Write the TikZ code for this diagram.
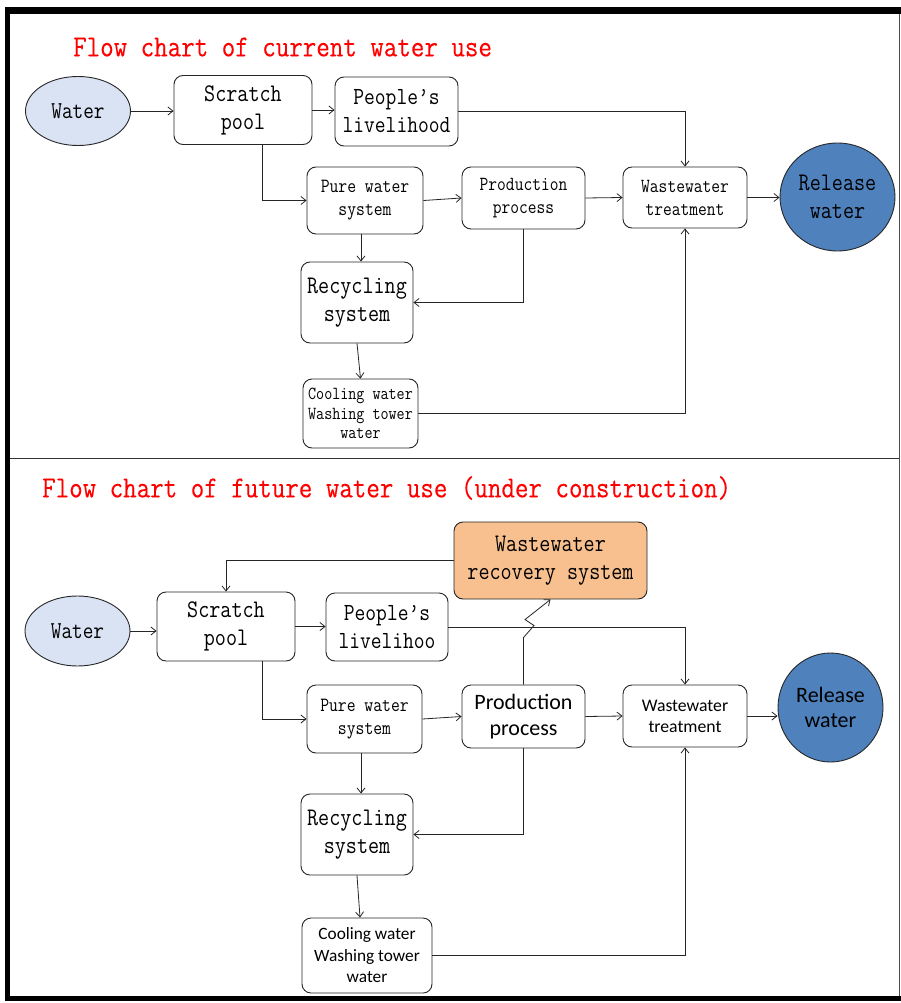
\documentclass[tikz,border=0pt]{standalone}
\usepackage{fontspec}
\usetikzlibrary{arrows.meta,shapes.geometric}
\newfontfamily\simfont[FakeStretch=0.85]{Latin Modern Mono}
\newfontfamily\titlefont[FakeStretch=0.86,FakeBold=0.2]{Latin Modern Mono}
\newfontfamily\calfont{Carlito}
\definecolor{waterblue}{HTML}{DAE3F3}
\definecolor{relblue}{HTML}{4F81BD}
\definecolor{recorange}{HTML}{F8C08F}
\newcommand{\fs}[2]{\fontsize{#1}{#2}\selectfont}
\begin{document}
\begin{tikzpicture}[x=1pt,y=-1pt,
  box/.style={draw=black!85, line width=0.9pt, rounded corners=9pt, align=center, inner sep=0pt},
  oval/.style={draw=black!85, line width=0.9pt, ellipse, align=center, inner sep=0pt},
  arr/.style={draw=black!85, line width=0.8pt, -{Straight Barb[length=5pt,width=8pt]}},
  ttl/.style={text=red, anchor=west, inner sep=0pt, font=\titlefont\fs{30.5}{33}}
]
\useasboundingbox (0,0) rectangle (901,1003);
\fill[white] (0,0) rectangle (901,1003);
% frame
\fill[black] (5,7) rectangle (901,14);
\fill[black] (5,7) rectangle (10,1001);
\fill[black] (5,996) rectangle (901,1001);
\draw[black!70, line width=1pt] (899.5,14) -- (899.5,996);
\draw[black!80, line width=1pt] (10,458) -- (899,458);

% ---------- top ----------
\node[ttl] (t1) at (73,47) {Flow chart of current water use};
\node[oval, fill=waterblue, minimum width=105pt, minimum height=69pt, font=\simfont\fs{24.3}{28}] (w1) at (78,111) {Water};
\node[box, minimum width=138pt, minimum height=69pt, font=\simfont\fs{25.3}{28}] (sp1) at (243,110) {Scratch\\pool};
\node[box, minimum width=123pt, minimum height=69pt, font=\simfont\fs{24.6}{28}] (pl1) at (396.5,111.5) {People’s\\livelihood};
\node[box, minimum width=116pt, minimum height=67pt, font=\simfont\fs{20.2}{23}] (pw1) at (365,200.5) {Pure water\\system};
\node[box, minimum width=123pt, minimum height=62pt, font=\simfont\fs{20}{23}] (pp1) at (523.5,198) {Production\\process};
\node[box, minimum width=124pt, minimum height=61pt, font=\simfont\fs{20}{23}] (wt1) at (685,197.5) {Wastewater\\treatment};
\node[oval, fill=relblue, minimum width=115pt, minimum height=108pt, font=\simfont\fs{25.3}{28}] (rw1) at (837.5,197) {Release\\water};
\node[box, minimum width=112pt, minimum height=81pt, font=\simfont\fs{25.3}{28}] (rs1) at (357,302.5) {Recycling\\system};
\node[box, minimum width=115pt, minimum height=69pt, font=\simfont\fs{18.4}{19.5}] (cw1) at (360.5,413.5) {Cooling water\\Washing tower\\water};

\draw[arr] (w1.east) -- (sp1.west |- w1.east);
\draw[arr] (sp1.east) -- (pl1.west |- sp1.east);
\draw[arr] (pl1.east) -| (wt1.north);
\draw[arr] ([xshift=19pt]sp1.south) |- (pw1.west);
\draw[arr] (pw1.east) -- (pp1.west);
\draw[arr] (pp1.east) -- (wt1.west);
\draw[arr] (wt1.east) -- (rw1.west |- wt1.east);
\draw[arr] ([xshift=-4pt]pw1.south) -- ([xshift=-4pt]pw1.south |- rs1.north);
\draw[arr] (pp1.south) |- (rs1.east);
\draw[arr] (rs1.south) -- (cw1.north);
\draw[arr] (cw1.east) -| (wt1.south);

% ---------- bottom ----------
\node[ttl] (t2) at (42,488) {Flow chart of future water use (under construction)};
\node[oval, fill=waterblue, minimum width=105pt, minimum height=70pt, font=\simfont\fs{24.3}{28}] (w2) at (77.5,631) {Water};
\node[box, minimum width=138pt, minimum height=69pt, font=\simfont\fs{25.3}{28}] (sp2) at (226,626.5) {Scratch\\pool};
\node[box, minimum width=122pt, minimum height=68pt, font=\simfont\fs{24.6}{28}] (pl2) at (387,627) {People’s\\livelihoo};
\node[box, fill=recorange, minimum width=193pt, minimum height=77pt, font=\simfont\fs{25.3}{28}] (wr2) at (550.5,560.5) {Wastewater\\recovery system};
\node[box, minimum width=115pt, minimum height=68pt, font=\simfont\fs{20.2}{23}] (pw2) at (364.5,719) {Pure water\\system};
\node[box, minimum width=123pt, minimum height=63pt, font=\calfont\fs{22}{26}] (pp2) at (523.5,716.5) {Production\\process};
\node[box, minimum width=124pt, minimum height=62pt, font=\calfont\fs{17.7}{21}] (wt2) at (685,716) {Wastewater\\treatment};
\node[oval, fill=relblue, minimum width=105pt, minimum height=109pt, font=\calfont\fs{22}{25}] (rw2) at (830.5,707.5) {Release\\water};
\node[box, minimum width=112pt, minimum height=81pt, font=\simfont\fs{25.3}{28}] (rs2) at (357,834.5) {Recycling\\system};
\node[box, minimum width=130pt, minimum height=75pt, font=\calfont\fs{17.3}{21.5}] (cw2) at (367,955.5) {Cooling water\\Washing tower\\water};

\draw[arr] (w2.east) -- (sp2.west |- w2.east);
\draw[arr] (sp2.east) -- (pl2.west |- sp2.east);
\draw[arr] (pl2.east) -| (wt2.north);
\draw[arr] (wr2.west) -| (sp2.north);
\draw[arr] (pp2.north) -- ++(0,-47) -- ++(10.5,-12) -- ++(-9,-6) -- (wr2.south);
\draw[arr] ([xshift=36pt]sp2.south) |- (pw2.west);
\draw[arr] (pw2.east) -- (pp2.west);
\draw[arr] (pp2.east) -- (wt2.west);
\draw[arr] (wt2.east) -- (rw2.west |- wt2.east);
\draw[arr] ([xshift=-3.5pt]pw2.south) -- ([xshift=-3.5pt]pw2.south |- rs2.north);
\draw[arr] (pp2.south) |- (rs2.east);
\draw[arr] (rs2.south) -- ([xshift=-7pt]cw2.north);
\draw[arr] (cw2.east) -| (wt2.south);
\end{tikzpicture}
\end{document}
